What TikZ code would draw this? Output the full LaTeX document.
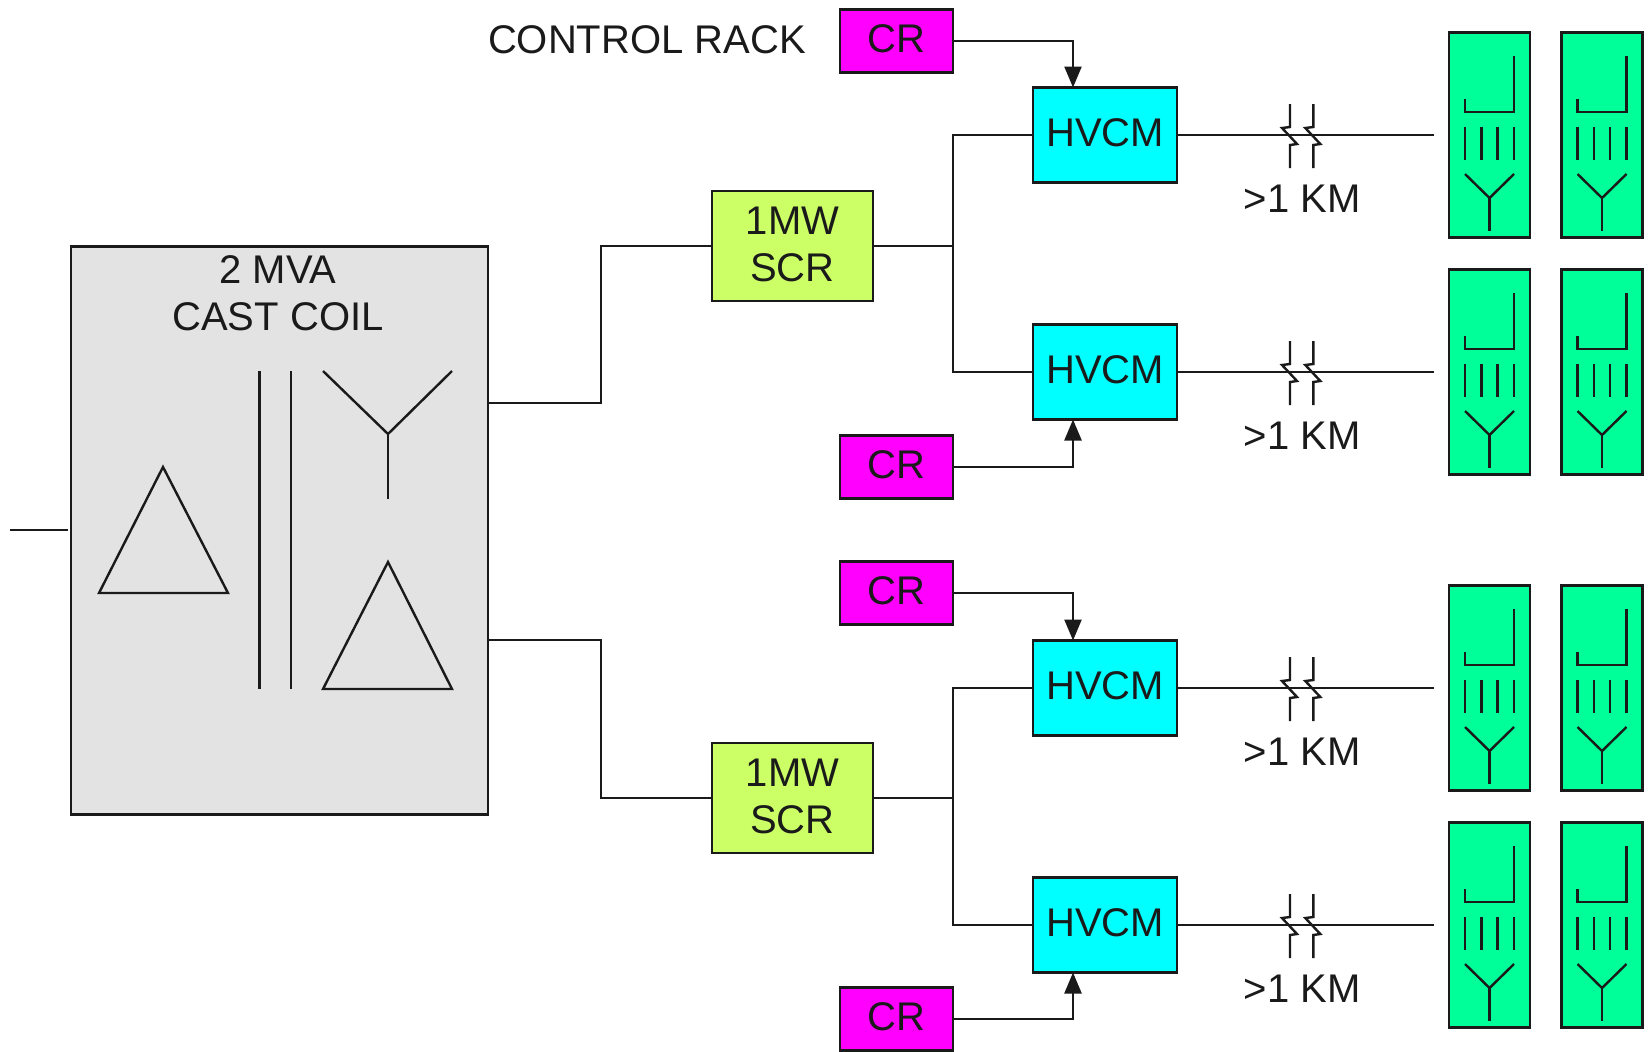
\documentclass[tikz,border=0pt]{standalone}
\usepackage{fontspec}
\setmainfont{Liberation Sans}
\usetikzlibrary{arrows.meta,calc}
\definecolor{inkc}{HTML}{1A1A1A}
\definecolor{xfgray}{HTML}{E3E3E3}
\definecolor{crc}{HTML}{FF00FF}
\definecolor{hvc}{HTML}{00FFFF}
\definecolor{scrc}{HTML}{CCFF66}
\definecolor{rackc}{HTML}{00FF99}
\tikzset{
  box/.style={draw=inkc,line width=1.2pt,inner sep=0pt,outer sep=0pt,align=center,text=inkc,text depth=2pt,font=\fontsize{20}{23.5}\selectfont},
  xfbox/.style={box,fill=xfgray,minimum width=208.5pt,minimum height=284pt},
  crbox/.style={box,fill=crc,minimum width=56.5pt,minimum height=31.5pt},
  hvbox/.style={box,fill=hvc,minimum width=72pt,minimum height=47.5pt},
  scrbox/.style={box,fill=scrc,minimum width=80.5pt,minimum height=55pt},
  rackbox/.style={box,fill=rackc,minimum width=40.5pt,minimum height=102.5pt},
  wire/.style={draw=inkc,line width=1.2pt},
  sym/.style={draw=inkc,line width=1.2pt,line join=miter},
  ctl/.style={wire,-{Triangle[length=10.5pt,width=8.5pt]}},
  lab/.style={inner sep=0pt,outer sep=0pt,text=inkc,align=center,font=\fontsize{20}{23.5}\selectfont}
}
\begin{document}
\begin{tikzpicture}[x=0.5pt,y=-0.5pt]
\useasboundingbox (0,0) rectangle (1648,1051);
% transformer
\node[xfbox] (xf) at (279.5,530.5) {};
\node[lab] (xft) at (278,293) {2 MVA\\CAST COIL};
\coordinate (inp) at (10,530);
\coordinate (inpe) at (68,530);
\draw[wire] (inp) -- (inpe);
\draw[sym] (163,467) -- (228,593) -- (99,593) -- cycle;
\draw[sym] (259.5,371) -- (259.5,689);
\draw[sym] (291,371) -- (291,689);
\draw[sym] (323,371) -- (388,434) -- (452,371);
\draw[sym] (388,434) -- (388,499);
\draw[sym] (388,562) -- (452,689) -- (323,689) -- cycle;
% SCR
\node[scrbox] (scr1) at (792.5,246) {1MW\\SCR};
\node[scrbox] (scr2) at (792.5,798) {1MW\\SCR};
\coordinate (o1) at (488,403);
\coordinate (o2) at (488,640);
\draw[wire] (o1) -- (601,403) -- (601,246) -- (scr1.west);
\draw[wire] (o2) -- (601,640) -- (601,798) -- (scr2.west);
\node[lab] (ctl) at (647,40) {CONTROL RACK};
% branches
\foreach \i/\yc/\cry/\s in {1/135/41/-1,2/372/467/1,3/688/593/-1,4/925/1019/1}{
  \node[hvbox] (hv\i) at (1105,\yc) {HVCM};
  \node[crbox] (cr\i) at (896.5,\cry) {CR};
  \coordinate (ctin\i) at (1073,\yc+\s*47.5);
  \draw[ctl] (cr\i.east) -| (ctin\i);
  \coordinate (end\i) at (1434,\yc);
  \draw[wire] (hv\i.east) -- (end\i);
  \foreach \dx in {1290,1313.3}{
    \draw[sym] (\dx,\yc-31) -- (\dx,\yc-8) -- (\dx-8,\yc-7) -- (\dx+7,\yc+9) -- (\dx,\yc+10) -- (\dx,\yc+33);
  }
  \node[lab] (km\i) at (1302,\yc+64) {>1 KM};
  \foreach \j/\cx in {a/1489.5,b/1602}{
    \node[rackbox] (r\i\j) at (\cx,\yc) {};
    \draw[sym] (\cx-24.5,\yc-36) -- (\cx-24.5,\yc-23) -- (\cx+24.5,\yc-23) -- (\cx+24.5,\yc-79);
    \foreach \lx in {-24.5,-8,8,24.5}{
      \draw[sym] (\cx+\lx,\yc-8) -- (\cx+\lx,\yc+25);
    }
    \draw[sym] (\cx-24.5,\yc+39) -- (\cx,\yc+63) -- (\cx+24.5,\yc+39);
    \draw[sym] (\cx,\yc+63) -- (\cx,\yc+96);
  }
}
\draw[wire] (hv1.west) -- (953,135) -- (953,372) -- (hv2.west);
\draw[wire] (scr1.east) -- (953,246);
\draw[wire] (hv3.west) -- (953,688) -- (953,925) -- (hv4.west);
\draw[wire] (scr2.east) -- (953,798);
\end{tikzpicture}
\end{document}
